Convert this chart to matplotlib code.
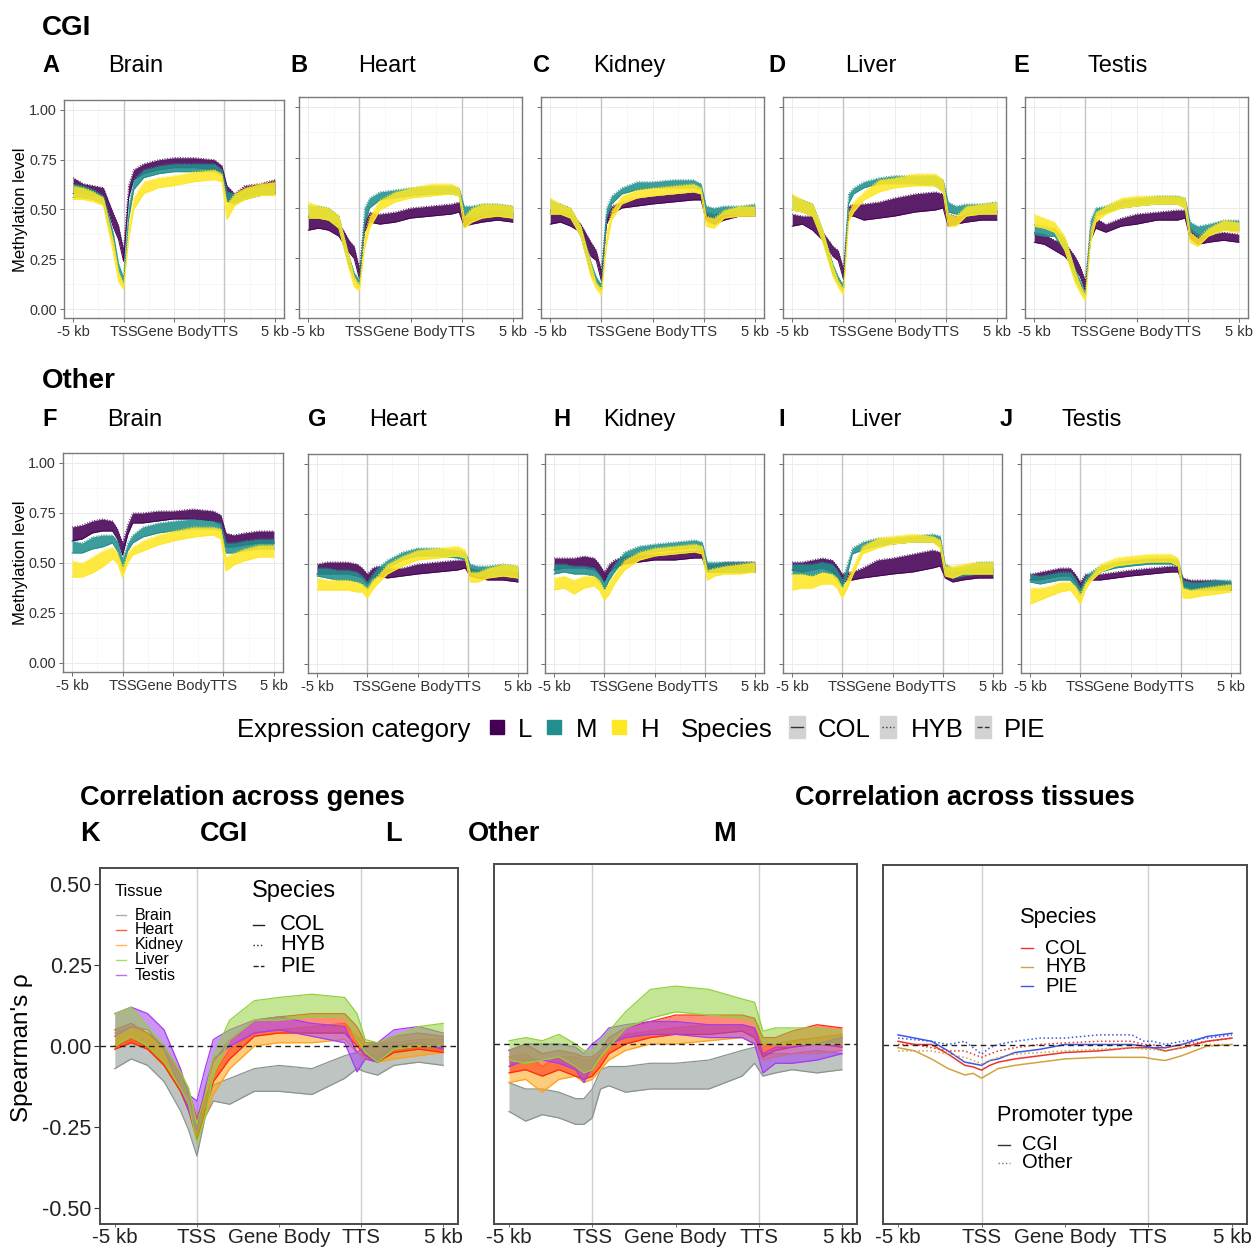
import matplotlib
matplotlib.use("Agg")
import matplotlib.pyplot as plt
from matplotlib.patches import Rectangle

plt.rcParams["font.family"] = ["Liberation Sans", "DejaVu Sans"]

W, H = 1260, 1253

# ---------------------------------------------------------------------------
# data (x: 0 = -5 kb, 1 = TSS, 2 = gene body middle, 3 = TTS, 4 = +5 kb)
# ---------------------------------------------------------------------------
X = [0.0, 0.2, 0.4, 0.6, 0.8, 0.9, 1.0, 1.1, 1.2, 1.4, 1.7, 2.0, 2.4, 2.8, 2.95, 3.05, 3.2, 3.4, 3.7, 4.0]
XLABELS = ["-5 kb", "TSS", "Gene Body", "TTS", "5 kb"]
CATS = ["L", "M", "H"]
TISSUES = ["Brain", "Heart", "Kidney", "Liver", "Testis"]
SPECIES = ["COL", "HYB", "PIE"]

# methylation bands (lower / upper edge of the bundle of lines), CGI promoters
cgi_brain_L_lo = [0.58, 0.58, 0.57, 0.57, 0.41, 0.35, 0.24, 0.56, 0.65, 0.68, 0.70, 0.71, 0.71, 0.70, 0.68, 0.55, 0.53, 0.56, 0.57, 0.58]
cgi_brain_L_hi = [0.66, 0.63, 0.62, 0.61, 0.48, 0.42, 0.30, 0.62, 0.70, 0.73, 0.75, 0.76, 0.76, 0.75, 0.72, 0.62, 0.58, 0.62, 0.63, 0.65]
cgi_brain_M_lo = [0.56, 0.56, 0.55, 0.53, 0.32, 0.19, 0.12, 0.45, 0.60, 0.66, 0.68, 0.69, 0.69, 0.69, 0.67, 0.54, 0.53, 0.55, 0.57, 0.58]
cgi_brain_M_hi = [0.63, 0.62, 0.60, 0.57, 0.38, 0.23, 0.16, 0.52, 0.65, 0.70, 0.72, 0.73, 0.73, 0.73, 0.70, 0.59, 0.58, 0.60, 0.62, 0.63]
cgi_brain_H_lo = [0.55, 0.55, 0.54, 0.52, 0.28, 0.14, 0.10, 0.35, 0.50, 0.58, 0.61, 0.62, 0.64, 0.65, 0.64, 0.45, 0.52, 0.55, 0.57, 0.57]
cgi_brain_H_hi = [0.62, 0.61, 0.59, 0.56, 0.34, 0.19, 0.13, 0.42, 0.56, 0.64, 0.66, 0.67, 0.69, 0.70, 0.68, 0.53, 0.58, 0.61, 0.63, 0.64]

cgi_heart_L_lo = [0.39, 0.40, 0.39, 0.36, 0.28, 0.25, 0.15, 0.38, 0.43, 0.42, 0.43, 0.45, 0.46, 0.47, 0.48, 0.41, 0.42, 0.43, 0.44, 0.43]
cgi_heart_L_hi = [0.46, 0.45, 0.44, 0.43, 0.34, 0.31, 0.20, 0.44, 0.48, 0.47, 0.48, 0.50, 0.51, 0.52, 0.53, 0.47, 0.47, 0.48, 0.49, 0.48]
cgi_heart_M_lo = [0.45, 0.45, 0.44, 0.40, 0.21, 0.15, 0.11, 0.42, 0.50, 0.54, 0.55, 0.56, 0.57, 0.57, 0.56, 0.46, 0.45, 0.46, 0.46, 0.45]
cgi_heart_M_hi = [0.51, 0.51, 0.50, 0.46, 0.26, 0.18, 0.14, 0.50, 0.55, 0.58, 0.59, 0.60, 0.61, 0.61, 0.60, 0.51, 0.51, 0.52, 0.52, 0.51]
cgi_heart_H_lo = [0.45, 0.45, 0.44, 0.40, 0.20, 0.11, 0.09, 0.30, 0.40, 0.49, 0.53, 0.55, 0.56, 0.57, 0.56, 0.40, 0.43, 0.45, 0.46, 0.45]
cgi_heart_H_hi = [0.53, 0.51, 0.50, 0.46, 0.26, 0.16, 0.12, 0.37, 0.46, 0.54, 0.58, 0.60, 0.62, 0.62, 0.60, 0.46, 0.50, 0.52, 0.52, 0.51]

cgi_kidney_L_lo = [0.42, 0.43, 0.41, 0.38, 0.26, 0.24, 0.14, 0.42, 0.47, 0.50, 0.51, 0.52, 0.53, 0.54, 0.54, 0.44, 0.42, 0.44, 0.46, 0.46]
cgi_kidney_L_hi = [0.49, 0.48, 0.47, 0.42, 0.33, 0.29, 0.19, 0.47, 0.51, 0.53, 0.55, 0.56, 0.57, 0.58, 0.57, 0.48, 0.47, 0.48, 0.50, 0.51]
cgi_kidney_M_lo = [0.47, 0.47, 0.45, 0.36, 0.17, 0.13, 0.09, 0.45, 0.52, 0.57, 0.59, 0.60, 0.60, 0.60, 0.59, 0.47, 0.45, 0.47, 0.47, 0.47]
cgi_kidney_M_hi = [0.54, 0.52, 0.50, 0.41, 0.23, 0.16, 0.12, 0.50, 0.56, 0.60, 0.63, 0.63, 0.64, 0.64, 0.62, 0.51, 0.50, 0.51, 0.51, 0.52]
cgi_kidney_H_lo = [0.47, 0.47, 0.45, 0.36, 0.16, 0.10, 0.07, 0.31, 0.44, 0.52, 0.55, 0.56, 0.57, 0.58, 0.57, 0.41, 0.40, 0.45, 0.46, 0.46]
cgi_kidney_H_hi = [0.55, 0.52, 0.50, 0.41, 0.22, 0.13, 0.10, 0.38, 0.49, 0.56, 0.59, 0.60, 0.61, 0.62, 0.60, 0.46, 0.45, 0.49, 0.51, 0.51]

cgi_liver_L_lo = [0.41, 0.42, 0.39, 0.34, 0.26, 0.24, 0.15, 0.46, 0.46, 0.44, 0.45, 0.46, 0.48, 0.49, 0.50, 0.41, 0.42, 0.43, 0.44, 0.44]
cgi_liver_L_hi = [0.47, 0.46, 0.46, 0.38, 0.31, 0.29, 0.20, 0.51, 0.52, 0.52, 0.53, 0.55, 0.57, 0.58, 0.57, 0.47, 0.46, 0.47, 0.48, 0.49]
cgi_liver_M_lo = [0.49, 0.48, 0.46, 0.34, 0.17, 0.13, 0.09, 0.52, 0.57, 0.60, 0.62, 0.62, 0.62, 0.61, 0.58, 0.48, 0.47, 0.47, 0.47, 0.47]
cgi_liver_M_hi = [0.56, 0.54, 0.52, 0.39, 0.22, 0.16, 0.12, 0.57, 0.60, 0.63, 0.65, 0.66, 0.66, 0.66, 0.64, 0.53, 0.51, 0.52, 0.52, 0.53]
cgi_liver_H_lo = [0.49, 0.48, 0.46, 0.33, 0.16, 0.11, 0.07, 0.43, 0.48, 0.54, 0.58, 0.60, 0.61, 0.61, 0.58, 0.41, 0.41, 0.46, 0.47, 0.47]
cgi_liver_H_hi = [0.57, 0.54, 0.52, 0.39, 0.21, 0.14, 0.10, 0.48, 0.53, 0.58, 0.64, 0.65, 0.67, 0.67, 0.64, 0.47, 0.46, 0.51, 0.52, 0.53]

cgi_testis_L_lo = [0.33, 0.32, 0.29, 0.26, 0.20, 0.16, 0.09, 0.34, 0.40, 0.38, 0.41, 0.42, 0.44, 0.44, 0.45, 0.35, 0.32, 0.33, 0.34, 0.33]
cgi_testis_L_hi = [0.38, 0.37, 0.34, 0.33, 0.26, 0.21, 0.14, 0.39, 0.45, 0.42, 0.45, 0.47, 0.48, 0.49, 0.49, 0.40, 0.37, 0.37, 0.38, 0.37]
cgi_testis_M_lo = [0.37, 0.36, 0.36, 0.29, 0.15, 0.10, 0.06, 0.40, 0.46, 0.48, 0.50, 0.51, 0.52, 0.52, 0.50, 0.39, 0.36, 0.37, 0.39, 0.39]
cgi_testis_M_hi = [0.42, 0.41, 0.40, 0.35, 0.20, 0.14, 0.08, 0.44, 0.50, 0.51, 0.54, 0.55, 0.56, 0.56, 0.55, 0.43, 0.41, 0.42, 0.44, 0.44]
cgi_testis_H_lo = [0.41, 0.40, 0.38, 0.29, 0.13, 0.08, 0.04, 0.33, 0.43, 0.47, 0.50, 0.51, 0.52, 0.52, 0.50, 0.33, 0.31, 0.36, 0.39, 0.38]
cgi_testis_H_hi = [0.47, 0.45, 0.43, 0.36, 0.19, 0.12, 0.07, 0.39, 0.48, 0.51, 0.55, 0.56, 0.56, 0.56, 0.55, 0.38, 0.35, 0.40, 0.44, 0.43]

# other promoters
oth_brain_L_lo = [0.61, 0.62, 0.65, 0.66, 0.66, 0.62, 0.54, 0.64, 0.70, 0.70, 0.71, 0.72, 0.72, 0.71, 0.69, 0.58, 0.58, 0.59, 0.60, 0.60]
oth_brain_L_hi = [0.68, 0.69, 0.71, 0.72, 0.71, 0.67, 0.60, 0.69, 0.75, 0.75, 0.76, 0.76, 0.77, 0.76, 0.74, 0.65, 0.64, 0.65, 0.66, 0.66]
oth_brain_M_lo = [0.55, 0.55, 0.57, 0.58, 0.60, 0.56, 0.46, 0.56, 0.60, 0.63, 0.65, 0.66, 0.67, 0.67, 0.66, 0.55, 0.55, 0.56, 0.57, 0.57]
oth_brain_M_hi = [0.61, 0.60, 0.63, 0.64, 0.64, 0.61, 0.52, 0.60, 0.64, 0.68, 0.70, 0.71, 0.72, 0.71, 0.70, 0.60, 0.60, 0.61, 0.62, 0.62]
oth_brain_H_lo = [0.43, 0.43, 0.45, 0.48, 0.52, 0.50, 0.43, 0.50, 0.54, 0.56, 0.59, 0.61, 0.63, 0.64, 0.62, 0.46, 0.49, 0.51, 0.53, 0.53]
oth_brain_H_hi = [0.51, 0.50, 0.53, 0.56, 0.58, 0.55, 0.48, 0.55, 0.58, 0.61, 0.64, 0.66, 0.68, 0.68, 0.67, 0.53, 0.55, 0.57, 0.59, 0.59]

oth_heart_L_lo = [0.45, 0.45, 0.45, 0.45, 0.44, 0.43, 0.40, 0.43, 0.44, 0.43, 0.44, 0.45, 0.46, 0.47, 0.48, 0.44, 0.43, 0.42, 0.42, 0.41]
oth_heart_L_hi = [0.50, 0.51, 0.51, 0.51, 0.50, 0.48, 0.45, 0.48, 0.49, 0.48, 0.48, 0.50, 0.51, 0.52, 0.52, 0.48, 0.47, 0.47, 0.47, 0.46]
oth_heart_M_lo = [0.44, 0.43, 0.42, 0.42, 0.41, 0.40, 0.37, 0.41, 0.44, 0.48, 0.52, 0.54, 0.54, 0.53, 0.52, 0.45, 0.44, 0.44, 0.44, 0.43]
oth_heart_M_hi = [0.48, 0.48, 0.47, 0.47, 0.46, 0.44, 0.41, 0.45, 0.48, 0.52, 0.56, 0.58, 0.58, 0.57, 0.56, 0.50, 0.49, 0.49, 0.50, 0.49]
oth_heart_H_lo = [0.37, 0.37, 0.37, 0.37, 0.36, 0.36, 0.33, 0.37, 0.40, 0.45, 0.49, 0.52, 0.53, 0.54, 0.53, 0.41, 0.41, 0.43, 0.44, 0.43]
oth_heart_H_hi = [0.43, 0.42, 0.42, 0.42, 0.41, 0.40, 0.38, 0.42, 0.44, 0.50, 0.54, 0.57, 0.58, 0.59, 0.57, 0.46, 0.46, 0.48, 0.50, 0.49]

oth_kidney_L_lo = [0.47, 0.48, 0.48, 0.48, 0.47, 0.45, 0.41, 0.46, 0.48, 0.50, 0.51, 0.52, 0.52, 0.53, 0.53, 0.46, 0.46, 0.46, 0.46, 0.46]
oth_kidney_L_hi = [0.53, 0.53, 0.53, 0.54, 0.53, 0.50, 0.46, 0.50, 0.52, 0.54, 0.55, 0.55, 0.56, 0.57, 0.57, 0.50, 0.50, 0.51, 0.51, 0.51]
oth_kidney_M_lo = [0.45, 0.46, 0.45, 0.45, 0.44, 0.41, 0.37, 0.42, 0.46, 0.52, 0.55, 0.56, 0.57, 0.58, 0.57, 0.47, 0.46, 0.46, 0.46, 0.46]
oth_kidney_M_hi = [0.50, 0.50, 0.49, 0.49, 0.48, 0.45, 0.41, 0.46, 0.50, 0.56, 0.59, 0.60, 0.61, 0.62, 0.61, 0.51, 0.51, 0.51, 0.51, 0.51]
oth_kidney_H_lo = [0.37, 0.38, 0.35, 0.38, 0.39, 0.37, 0.32, 0.35, 0.40, 0.47, 0.52, 0.54, 0.55, 0.56, 0.55, 0.42, 0.44, 0.45, 0.45, 0.46]
oth_kidney_H_hi = [0.43, 0.44, 0.42, 0.44, 0.44, 0.42, 0.37, 0.41, 0.45, 0.52, 0.56, 0.58, 0.59, 0.60, 0.59, 0.47, 0.48, 0.49, 0.50, 0.51]

oth_liver_L_lo = [0.47, 0.46, 0.47, 0.48, 0.46, 0.44, 0.40, 0.42, 0.42, 0.43, 0.44, 0.45, 0.46, 0.48, 0.49, 0.43, 0.41, 0.42, 0.43, 0.43]
oth_liver_L_hi = [0.51, 0.51, 0.52, 0.53, 0.52, 0.49, 0.45, 0.46, 0.46, 0.48, 0.52, 0.53, 0.55, 0.57, 0.56, 0.48, 0.46, 0.47, 0.48, 0.48]
oth_liver_M_lo = [0.45, 0.45, 0.44, 0.46, 0.45, 0.42, 0.38, 0.45, 0.55, 0.57, 0.59, 0.60, 0.61, 0.61, 0.59, 0.45, 0.43, 0.44, 0.45, 0.45]
oth_liver_M_hi = [0.50, 0.50, 0.50, 0.51, 0.50, 0.47, 0.42, 0.50, 0.58, 0.61, 0.63, 0.63, 0.64, 0.65, 0.64, 0.50, 0.48, 0.49, 0.51, 0.51]
oth_liver_H_lo = [0.37, 0.38, 0.38, 0.40, 0.40, 0.38, 0.33, 0.38, 0.44, 0.55, 0.58, 0.60, 0.61, 0.61, 0.58, 0.44, 0.43, 0.45, 0.45, 0.45]
oth_liver_H_hi = [0.45, 0.45, 0.44, 0.46, 0.45, 0.43, 0.38, 0.43, 0.48, 0.59, 0.63, 0.64, 0.65, 0.64, 0.62, 0.49, 0.49, 0.50, 0.51, 0.51]

oth_testis_L_lo = [0.42, 0.42, 0.43, 0.44, 0.44, 0.41, 0.37, 0.41, 0.42, 0.42, 0.43, 0.44, 0.45, 0.46, 0.46, 0.39, 0.38, 0.38, 0.38, 0.37]
oth_testis_L_hi = [0.45, 0.46, 0.47, 0.48, 0.48, 0.45, 0.41, 0.45, 0.45, 0.45, 0.46, 0.47, 0.48, 0.49, 0.49, 0.43, 0.42, 0.42, 0.42, 0.41]
oth_testis_M_lo = [0.41, 0.40, 0.41, 0.42, 0.42, 0.39, 0.34, 0.40, 0.43, 0.46, 0.48, 0.49, 0.50, 0.50, 0.49, 0.38, 0.37, 0.37, 0.37, 0.37]
oth_testis_M_hi = [0.45, 0.44, 0.45, 0.46, 0.46, 0.43, 0.38, 0.44, 0.46, 0.49, 0.51, 0.52, 0.53, 0.53, 0.52, 0.42, 0.41, 0.41, 0.42, 0.42]
oth_testis_H_lo = [0.30, 0.32, 0.34, 0.36, 0.37, 0.34, 0.30, 0.37, 0.41, 0.46, 0.49, 0.50, 0.51, 0.51, 0.49, 0.33, 0.33, 0.34, 0.35, 0.36]
oth_testis_H_hi = [0.38, 0.38, 0.39, 0.41, 0.41, 0.39, 0.35, 0.41, 0.44, 0.50, 0.53, 0.54, 0.55, 0.55, 0.53, 0.38, 0.37, 0.38, 0.39, 0.40]

# Spearman's rho across genes, CGI promoters (band per tissue)
k_brain_lo = [-0.07, -0.04, -0.06, -0.11, -0.20, -0.26, -0.34, -0.22, -0.17, -0.18, -0.14, -0.14, -0.15, -0.10, -0.07, -0.08, -0.09, -0.06, -0.05, -0.06]
k_brain_hi = [0.00, 0.02, 0.00, -0.05, -0.14, -0.20, -0.27, -0.16, -0.12, -0.10, -0.07, -0.06, -0.07, -0.03, -0.02, -0.03, -0.03, 0.00, 0.01, 0.00]
k_heart_lo = [-0.01, 0.01, -0.01, -0.06, -0.14, -0.20, -0.29, -0.20, -0.11, -0.04, 0.03, 0.04, 0.04, 0.04, 0.00, -0.03, -0.05, -0.02, -0.01, -0.02]
k_heart_hi = [0.05, 0.07, 0.04, 0.00, -0.08, -0.14, -0.23, -0.14, -0.05, 0.02, 0.08, 0.09, 0.10, 0.10, 0.06, 0.01, 0.01, 0.03, 0.04, 0.03]
k_kidney_lo = [-0.01, 0.01, -0.01, -0.06, -0.14, -0.19, -0.28, -0.22, -0.15, -0.07, 0.00, 0.01, 0.01, 0.02, -0.02, -0.04, -0.05, -0.04, -0.03, -0.02]
k_kidney_hi = [0.04, 0.06, 0.04, -0.01, -0.09, -0.14, -0.22, -0.16, -0.09, -0.01, 0.04, 0.05, 0.06, 0.07, 0.03, 0.00, 0.01, 0.01, 0.02, 0.02]
k_liver_lo = [0.00, 0.03, 0.00, -0.05, -0.13, -0.18, -0.30, -0.22, -0.09, 0.02, 0.08, 0.08, 0.09, 0.09, 0.02, -0.02, -0.05, -0.01, 0.00, 0.00]
k_liver_hi = [0.10, 0.12, 0.06, 0.00, -0.08, -0.13, -0.24, -0.15, -0.03, 0.08, 0.14, 0.15, 0.16, 0.15, 0.10, 0.02, 0.01, 0.03, 0.06, 0.07]
k_testis_lo = [0.03, 0.06, 0.05, -0.01, -0.13, -0.20, -0.26, -0.13, -0.04, 0.00, 0.04, 0.05, 0.03, 0.01, -0.08, -0.04, -0.05, 0.00, 0.01, -0.01]
k_testis_hi = [0.10, 0.12, 0.10, 0.05, -0.07, -0.15, -0.17, -0.07, 0.02, 0.05, 0.08, 0.09, 0.07, 0.06, -0.02, 0.00, 0.01, 0.05, 0.06, 0.04]

# Spearman's rho across genes, other promoters
l_brain_lo = [-0.21, -0.24, -0.22, -0.23, -0.25, -0.25, -0.23, -0.14, -0.13, -0.15, -0.14, -0.14, -0.14, -0.10, -0.06, -0.10, -0.09, -0.08, -0.09, -0.08]
l_brain_hi = [-0.12, -0.14, -0.14, -0.15, -0.17, -0.17, -0.14, -0.08, -0.07, -0.07, -0.06, -0.06, -0.05, -0.02, -0.01, -0.03, -0.03, -0.03, -0.02, -0.03]
l_heart_lo = [-0.09, -0.08, -0.10, -0.08, -0.10, -0.11, -0.10, -0.07, -0.03, 0.00, 0.02, 0.03, 0.03, 0.04, 0.02, -0.04, -0.02, -0.01, 0.00, -0.01]
l_heart_hi = [-0.02, 0.00, -0.03, -0.02, -0.03, -0.04, -0.04, -0.02, 0.02, 0.05, 0.07, 0.09, 0.09, 0.09, 0.08, 0.02, 0.02, 0.04, 0.06, 0.05]
l_kidney_lo = [-0.12, -0.11, -0.15, -0.11, -0.10, -0.12, -0.11, -0.08, -0.05, -0.02, 0.00, 0.00, 0.01, 0.02, 0.00, -0.05, -0.04, -0.03, -0.03, -0.02]
l_kidney_hi = [-0.04, -0.03, -0.07, -0.04, -0.04, -0.05, -0.05, -0.03, 0.00, 0.03, 0.04, 0.05, 0.06, 0.06, 0.05, 0.00, 0.00, 0.01, 0.02, 0.03]
l_liver_lo = [-0.05, -0.06, -0.05, -0.04, -0.07, -0.09, -0.08, -0.04, -0.01, 0.05, 0.08, 0.10, 0.09, 0.08, 0.07, 0.00, 0.00, 0.00, 0.00, 0.00]
l_liver_hi = [0.01, 0.02, 0.01, 0.03, 0.00, -0.02, -0.02, 0.01, 0.04, 0.10, 0.17, 0.18, 0.17, 0.14, 0.13, 0.04, 0.05, 0.05, 0.05, 0.04]
l_testis_lo = [-0.07, -0.05, -0.05, -0.06, -0.08, -0.12, -0.07, -0.03, 0.00, 0.02, 0.03, 0.03, 0.02, 0.02, 0.00, -0.09, -0.06, -0.06, -0.05, -0.03]
l_testis_hi = [-0.02, 0.00, 0.00, 0.00, -0.01, -0.03, 0.00, 0.02, 0.05, 0.06, 0.07, 0.07, 0.06, 0.06, 0.05, -0.03, -0.01, -0.01, 0.00, 0.02]

# Spearman's rho across tissues (one line per species x promoter type)
m_col_cgi = [0.01, 0.00, 0.00, -0.03, -0.065, -0.07, -0.08, -0.065, -0.055, -0.045, -0.035, -0.025, -0.02, -0.01, -0.01, -0.01, -0.02, -0.01, 0.01, 0.02]
m_hyb_cgi = [-0.01, -0.02, -0.045, -0.075, -0.095, -0.09, -0.105, -0.09, -0.075, -0.065, -0.055, -0.045, -0.04, -0.04, -0.04, -0.045, -0.05, -0.035, -0.005, 0.00]
m_pie_cgi = [0.03, 0.02, 0.01, -0.02, -0.055, -0.06, -0.065, -0.05, -0.045, -0.025, -0.015, 0.00, 0.00, 0.00, -0.005, -0.01, -0.01, 0.00, 0.025, 0.035]
m_col_other = [0.00, 0.00, -0.01, -0.02, -0.02, -0.03, -0.04, -0.03, -0.02, -0.01, 0.00, 0.005, 0.01, 0.01, 0.00, 0.00, -0.01, 0.00, 0.01, 0.02]
m_hyb_other = [-0.02, -0.02, -0.02, -0.03, -0.04, -0.05, -0.06, -0.05, -0.04, -0.03, -0.025, -0.02, -0.015, -0.01, -0.015, -0.015, -0.02, -0.01, 0.00, 0.00]
m_pie_other = [0.02, 0.015, 0.01, 0.00, 0.01, -0.01, -0.03, -0.01, 0.00, 0.01, 0.02, 0.02, 0.03, 0.03, 0.01, 0.01, 0.00, 0.01, 0.02, 0.03]

EXPR_COLORS = {"L": "#440154", "M": "#21908C", "H": "#FDE725"}
TISSUE_COLORS = {"Brain": "#8A948F", "Heart": "#FF2A0A", "Kidney": "#FFA214",
                 "Liver": "#92D13C", "Testis": "#A53CF2"}
SPECIES_COLORS = {"COL": "#E8352C", "HYB": "#D4A23C", "PIE": "#3D57E3"}
SPECIES_LS = {"COL": "-", "HYB": ":", "PIE": "--"}

# tables built from the named lists above
CGI_BANDS = {
    "Brain": {"L": (cgi_brain_L_lo, cgi_brain_L_hi), "M": (cgi_brain_M_lo, cgi_brain_M_hi), "H": (cgi_brain_H_lo, cgi_brain_H_hi)},
    "Heart": {"L": (cgi_heart_L_lo, cgi_heart_L_hi), "M": (cgi_heart_M_lo, cgi_heart_M_hi), "H": (cgi_heart_H_lo, cgi_heart_H_hi)},
    "Kidney": {"L": (cgi_kidney_L_lo, cgi_kidney_L_hi), "M": (cgi_kidney_M_lo, cgi_kidney_M_hi), "H": (cgi_kidney_H_lo, cgi_kidney_H_hi)},
    "Liver": {"L": (cgi_liver_L_lo, cgi_liver_L_hi), "M": (cgi_liver_M_lo, cgi_liver_M_hi), "H": (cgi_liver_H_lo, cgi_liver_H_hi)},
    "Testis": {"L": (cgi_testis_L_lo, cgi_testis_L_hi), "M": (cgi_testis_M_lo, cgi_testis_M_hi), "H": (cgi_testis_H_lo, cgi_testis_H_hi)},
}
OTH_BANDS = {
    "Brain": {"L": (oth_brain_L_lo, oth_brain_L_hi), "M": (oth_brain_M_lo, oth_brain_M_hi), "H": (oth_brain_H_lo, oth_brain_H_hi)},
    "Heart": {"L": (oth_heart_L_lo, oth_heart_L_hi), "M": (oth_heart_M_lo, oth_heart_M_hi), "H": (oth_heart_H_lo, oth_heart_H_hi)},
    "Kidney": {"L": (oth_kidney_L_lo, oth_kidney_L_hi), "M": (oth_kidney_M_lo, oth_kidney_M_hi), "H": (oth_kidney_H_lo, oth_kidney_H_hi)},
    "Liver": {"L": (oth_liver_L_lo, oth_liver_L_hi), "M": (oth_liver_M_lo, oth_liver_M_hi), "H": (oth_liver_H_lo, oth_liver_H_hi)},
    "Testis": {"L": (oth_testis_L_lo, oth_testis_L_hi), "M": (oth_testis_M_lo, oth_testis_M_hi), "H": (oth_testis_H_lo, oth_testis_H_hi)},
}
K_BANDS = {"Brain": (k_brain_lo, k_brain_hi), "Heart": (k_heart_lo, k_heart_hi),
           "Kidney": (k_kidney_lo, k_kidney_hi), "Liver": (k_liver_lo, k_liver_hi),
           "Testis": (k_testis_lo, k_testis_hi)}
L_BANDS = {"Brain": (l_brain_lo, l_brain_hi), "Heart": (l_heart_lo, l_heart_hi),
           "Kidney": (l_kidney_lo, l_kidney_hi), "Liver": (l_liver_lo, l_liver_hi),
           "Testis": (l_testis_lo, l_testis_hi)}
M_LINES = {("COL", "CGI"): m_col_cgi, ("HYB", "CGI"): m_hyb_cgi, ("PIE", "CGI"): m_pie_cgi,
           ("COL", "Other"): m_col_other, ("HYB", "Other"): m_hyb_other, ("PIE", "Other"): m_pie_other}

# ---------------------------------------------------------------------------
# figure
# ---------------------------------------------------------------------------
fig = plt.figure(figsize=(W / 100, H / 100), dpi=100)


def px_axes(x0, y0, x1, y1):
    """axes from pixel box (top-left origin)"""
    return fig.add_axes([x0 / W, 1 - y1 / H, (x1 - x0) / W, (y1 - y0) / H])


def methyl_panel(box, bands, ylabels):
    ax = px_axes(*box)
    ax.set_xlim(-0.18, 4.18)
    ax.set_ylim(-0.045, 1.05)
    ax.set_xticks(range(5))
    ax.set_xticklabels(XLABELS, fontsize=10.6, color="#333333")
    ax.set_yticks([0, 0.25, 0.5, 0.75, 1.0])
    if ylabels:
        ax.set_yticklabels(["0.00", "0.25", "0.50", "0.75", "1.00"], fontsize=10.4, color="#333333")
    else:
        ax.set_yticklabels([])
    ax.set_xticks([0.5, 1.5, 2.5, 3.5], minor=True)
    ax.set_yticks([0.125, 0.375, 0.625, 0.875], minor=True)
    ax.grid(True, which="major", color="#EBEBEB", lw=0.7)
    ax.grid(True, which="minor", color="#F4F4F4", lw=0.5)
    ax.set_axisbelow(True)
    ax.tick_params(which="major", length=3, width=0.6, color="#555555", pad=2)
    ax.tick_params(which="minor", length=0)
    for s in ax.spines.values():
        s.set_color("#7A7A7A")
        s.set_linewidth(1.0)
    for xv in (1, 3):
        ax.axvline(xv, color="#C4C4C4", lw=1.0, zorder=1)
    for cat in CATS:
        lo, hi = bands[cat]
        col = EXPR_COLORS[cat]
        ax.fill_between(X, lo, hi, color=col, alpha=0.88, lw=0, zorder=2)
        ax.plot(X, lo, color=col, lw=0.7, zorder=2)
        ax.plot(X, hi, color=col, lw=0.7, ls=":", zorder=2)
    return ax


def corr_axes(box, ylim, ylabels):
    ax = px_axes(*box)
    ax.set_xlim(-0.18, 4.18)
    ax.set_ylim(*ylim)
    ax.set_xticks(range(5))
    ax.set_xticklabels(XLABELS, fontsize=14.8, color="#222222")
    ax.set_yticks([-0.5, -0.25, 0, 0.25, 0.5])
    if ylabels:
        ax.set_yticklabels(["-0.50", "-0.25", "0.00", "0.25", "0.50"], fontsize=15.5, color="#222222")
        ax.tick_params(axis="y", length=4, width=0.8, color="#333333", pad=2)
    else:
        ax.set_yticklabels([])
        ax.tick_params(axis="y", length=0)
    ax.tick_params(axis="x", length=2, width=0.6, color="#555555", pad=1)
    for s in ax.spines.values():
        s.set_color("#4A4A4A")
        s.set_linewidth(1.4)
    for xv in (1, 3):
        ax.axvline(xv, color="#CFCFCF", lw=1.0, zorder=1)
    return ax


# rows of methylation panels
ROW1_BOXES = [(64, 100, 284, 318), (299, 97, 522, 318), (541, 97, 764, 318),
              (783, 97, 1006, 318), (1025, 97, 1248, 318)]
ROW2_BOXES = [(63, 453, 283, 672), (308, 454, 527, 673), (545, 454, 764, 673),
              (783, 454, 1002, 673), (1021, 454, 1240, 673)]
for i, t in enumerate(TISSUES):
    methyl_panel(ROW1_BOXES[i], CGI_BANDS[t], i == 0)
    methyl_panel(ROW2_BOXES[i], OTH_BANDS[t], i == 0)

# K: CGI across genes
axk = corr_axes((100, 868, 458, 1224), (-0.55, 0.55), True)
for t in ["Brain", "Kidney", "Heart", "Testis", "Liver"]:
    lo, hi = K_BANDS[t]
    axk.fill_between(X, lo, hi, color=TISSUE_COLORS[t], alpha=0.55, lw=0, zorder=2)
    axk.plot(X, lo, color=TISSUE_COLORS[t], lw=0.9, zorder=2)
    axk.plot(X, hi, color=TISSUE_COLORS[t], lw=0.9, zorder=2)
axk.axhline(0, color="#222222", lw=1.0, ls=(0, (4, 3)), zorder=3)

# L: other across genes
axl = corr_axes((494, 864, 857, 1224), (-0.56, 0.56), False)
for t in ["Brain", "Kidney", "Heart", "Testis", "Liver"]:
    lo, hi = L_BANDS[t]
    axl.fill_between(X, lo, hi, color=TISSUE_COLORS[t], alpha=0.55, lw=0, zorder=2)
    axl.plot(X, lo, color=TISSUE_COLORS[t], lw=0.9, zorder=2)
    axl.plot(X, hi, color=TISSUE_COLORS[t], lw=0.9, zorder=2)
axl.axhline(0, color="#222222", lw=1.0, ls=(0, (4, 3)), zorder=3)

# M: across tissues
axm = corr_axes((883, 865, 1247, 1224), (-0.56, 0.56), False)
for (sp, prom), vals in M_LINES.items():
    axm.plot(X, vals, color=SPECIES_COLORS[sp], lw=1.1,
             ls="-" if prom == "CGI" else ":", zorder=2)
axm.axhline(0, color="#222222", lw=1.0, ls=(0, (4, 3)), zorder=3)

# ---------------------------------------------------------------------------
# overlay for titles, labels and legends (pixel coordinates)
# ---------------------------------------------------------------------------
ov = fig.add_axes([0, 0, 1, 1], zorder=10)
ov.set_xlim(0, W)
ov.set_ylim(H, 0)
ov.axis("off")


def txt(x, y, s, size, bold=False, **kw):
    kw.setdefault("va", "baseline")
    ov.text(x, y, s, fontsize=size, fontweight="bold" if bold else "normal", **kw)


txt(42, 35, "CGI", 20, True)
for x, s in zip([42, 290, 533, 768, 1013], "ABCDE"):
    txt(x, 72, s, 17, True)
for x, s in zip([108, 358, 593, 845, 1088], TISSUES):
    txt(x, 72, s, 17)
txt(42, 388, "Other", 20, True)
for x, s in zip([42, 308, 553, 778, 1000], "FGHIJ"):
    txt(x, 426, s, 17, True)
for x, s in zip([107, 369, 603, 850, 1062], TISSUES):
    txt(x, 426, s, 17)

txt(21, 210, "Methylation level", 12, va="center", ha="center", rotation=90)
txt(21, 563, "Methylation level", 12, va="center", ha="center", rotation=90)
txt(22, 1048, "Spearman's ρ", 17.5, va="center", ha="center", rotation=90)

# expression / species legend row
txt(237, 737, "Expression category", 18.5)
for xc, cat, xl in zip([497, 554, 619], CATS, [518, 576, 641]):
    ov.add_patch(Rectangle((xc - 7, 720), 14, 14, color=EXPR_COLORS[cat]))
    txt(xl, 737, cat, 18.5)
txt(681, 737, "Species", 18.5)
for xc, sp, xl in zip([797, 888, 983], SPECIES, [818, 911, 1004]):
    ov.add_patch(Rectangle((xc - 8, 716), 16, 22, color="#D2D2D2"))
    ov.plot([xc - 6, xc + 6], [727, 727], color="#333333", lw=1.0, ls=SPECIES_LS[sp])
    txt(xl, 737, sp, 18.5)

# bottom titles
txt(80, 805, "Correlation across genes", 19.5, True)
txt(795, 805, "Correlation across tissues", 19.5, True)
txt(80, 841, "K", 19.5, True)
txt(200, 841, "CGI", 19.5, True)
txt(385, 841, "L", 19.5, True)
txt(468, 841, "Other", 19.5, True)
txt(713, 841, "M", 19.5, True)

# K legends
txt(115, 892, "Tissue", 12, va="center")
for y, t in zip([915, 930, 945, 960, 975], TISSUES):
    ov.plot([116, 126], [y, y], color=TISSUE_COLORS[t], lw=1.0, alpha=0.75)
    txt(135, y, t, 11.5, va="center")
txt(252, 891, "Species", 17, va="center")
for y, sp in zip([925, 945, 966], SPECIES):
    ov.plot([253, 264], [y, y], color="#222222", lw=1.0, ls=SPECIES_LS[sp])
    txt(280, y, sp, 15.8, va="center")

# M legends
txt(1020, 918, "Species", 15.7, va="center")
for y, sp in zip([948, 967, 986], SPECIES):
    ov.plot([1021, 1033], [y, y], color=SPECIES_COLORS[sp], lw=1.0)
    txt(1045, y, sp, 14.5, va="center")
txt(997, 1115, "Promoter type", 15.7, va="center")
ov.plot([998, 1010], [1145, 1145], color="#333333", lw=1.0)
txt(1022, 1145, "CGI", 14.5, va="center")
ov.plot([998, 1010], [1163, 1163], color="#777777", lw=1.0, ls=":")
txt(1022, 1163, "Other", 14.5, va="center")

fig.savefig("out.png", dpi=100)
